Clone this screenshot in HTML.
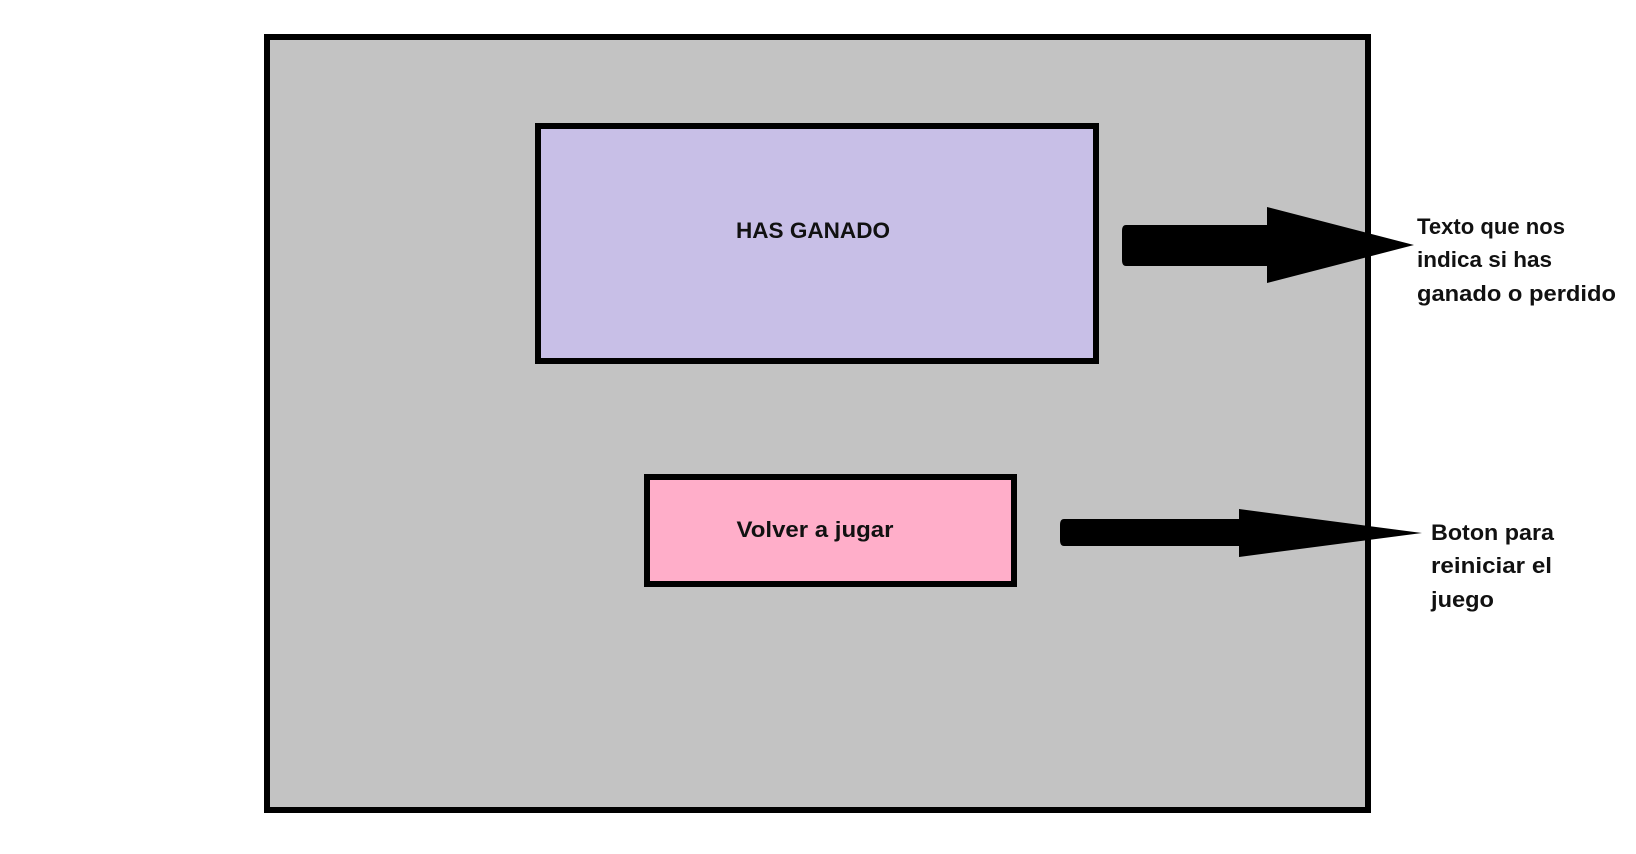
<!DOCTYPE html>
<html><head><meta charset="utf-8"><style>html,body{margin:0;padding:0;background:#fff}</style></head>
<body>
<svg width="1636" height="849" viewBox="0 0 1636 849" xmlns="http://www.w3.org/2000/svg" font-family="Liberation Sans, sans-serif" font-weight="bold" font-size="22">
<rect width="1636" height="849" fill="#fff"/>
<g transform="translate(-4,-2)">
<rect x="271" y="39" width="1101" height="773" fill="#c3c3c3" stroke="#000" stroke-width="6"/>
<rect x="542" y="128" width="558" height="235" fill="#c8bfe7" stroke="#000" stroke-width="6"/>
<rect x="651" y="479" width="367" height="107" fill="#ffaec9" stroke="#000" stroke-width="6"/>
<text x="817" y="240" text-anchor="middle" textLength="154" lengthAdjust="spacingAndGlyphs" fill="#111">HAS GANADO</text>
<text x="819" y="539" text-anchor="middle" textLength="157" lengthAdjust="spacingAndGlyphs" fill="#111">Volver a jugar</text>
<path d="M1130 227 H1271 V209 L1418 247 L1271 285 V268 H1130 Q1126 268 1126 262 V233 Q1126 227 1130 227 Z" fill="#000"/>
<path d="M1068 521 H1243 V511 L1426 535 L1243 559 V548 H1068 Q1064 548 1064 542 V527 Q1064 521 1068 521 Z" fill="#000"/>
</g>
<g fill="#111" transform="translate(-7,-2)">
<text x="1424" y="236" textLength="148" lengthAdjust="spacingAndGlyphs">Texto que nos</text>
<text x="1424" y="269" textLength="135" lengthAdjust="spacingAndGlyphs">indica si has</text>
<text x="1424" y="303" textLength="199" lengthAdjust="spacingAndGlyphs">ganado o perdido</text>
<text x="1438" y="542" textLength="123" lengthAdjust="spacingAndGlyphs">Boton para</text>
<text x="1438" y="575" textLength="121" lengthAdjust="spacingAndGlyphs">reiniciar el</text>
<text x="1438" y="609" textLength="63" lengthAdjust="spacingAndGlyphs">juego</text>
</g>
</svg>
</body></html>
